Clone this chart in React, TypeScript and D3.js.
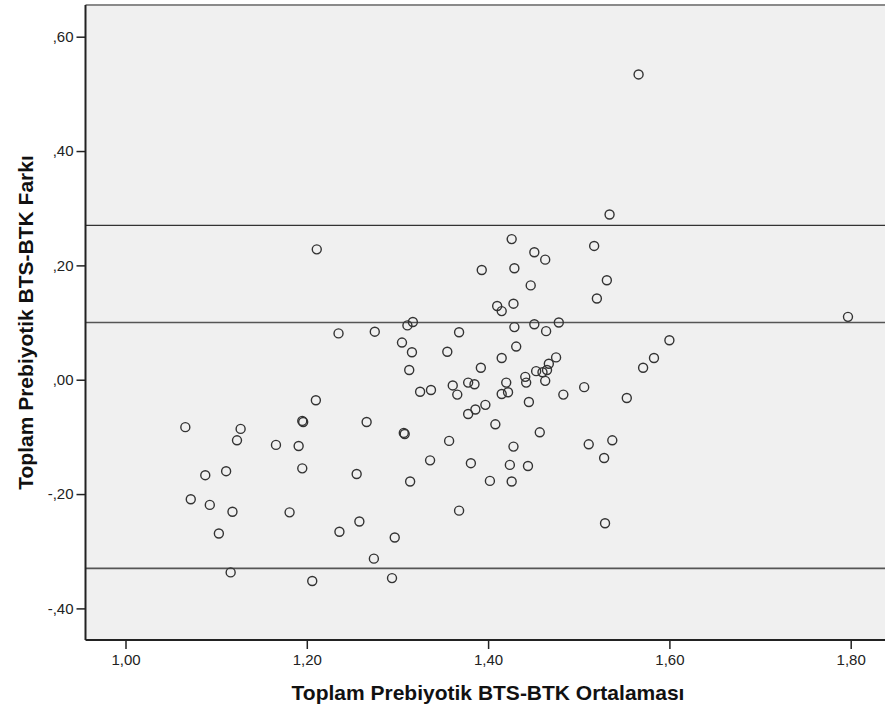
import React, { useRef, useEffect } from 'react'
import * as d3 from 'd3'

// Bland-Altman: mean (x) vs difference (y)
const meanValues = [
  1.566, 1.534, 1.426, 1.517, 1.451, 1.463, 1.393, 1.429, 1.531, 1.447,
  1.520, 1.410, 1.415, 1.428, 1.311, 1.317, 1.429, 1.451, 1.464, 1.478,
  1.368, 1.305, 1.316, 1.355, 1.431, 1.600, 1.583, 1.571, 1.415, 1.475,
  1.313, 1.392, 1.467, 1.453, 1.460, 1.465, 1.441, 1.442, 1.463, 1.325,
  1.337, 1.361, 1.366, 1.378, 1.385, 1.420, 1.415, 1.422, 1.506, 1.483,
  1.553, 1.445, 1.378, 1.386, 1.397, 1.408, 1.307, 1.308, 1.357, 1.457,
  1.428, 1.511, 1.537, 1.336, 1.381, 1.424, 1.444, 1.528, 1.314, 1.402,
  1.426, 1.368, 1.529, 1.211, 1.235, 1.275, 1.210, 1.066, 1.127, 1.123,
  1.195, 1.196, 1.266, 1.166, 1.191, 1.088, 1.111, 1.195, 1.255, 1.072,
  1.093, 1.118, 1.181, 1.258, 1.236, 1.297, 1.103, 1.274, 1.116, 1.206,
  1.294, 1.797
]
const diffValues = [
  0.534, 0.289, 0.246, 0.234, 0.223, 0.210, 0.192, 0.195, 0.174, 0.165,
  0.142, 0.129, 0.120, 0.133, 0.095, 0.101, 0.092, 0.097, 0.085, 0.100,
  0.083, 0.065, 0.048, 0.049, 0.058, 0.069, 0.038, 0.021, 0.038, 0.039,
  0.017, 0.021, 0.028, 0.015, 0.013, 0.017, 0.005, -0.005, -0.002, -0.021,
  -0.018, -0.010, -0.026, -0.005, -0.008, -0.005, -0.025, -0.022, -0.013, -0.026,
  -0.032, -0.039, -0.060, -0.052, -0.044, -0.078, -0.093, -0.095, -0.107, -0.092,
  -0.117, -0.113, -0.106, -0.141, -0.146, -0.149, -0.151, -0.137, -0.178, -0.177,
  -0.178, -0.229, -0.251, 0.228, 0.081, 0.084, -0.036, -0.083, -0.086, -0.106,
  -0.072, -0.074, -0.074, -0.114, -0.116, -0.167, -0.160, -0.155, -0.165, -0.209,
  -0.219, -0.231, -0.232, -0.248, -0.266, -0.276, -0.269, -0.313, -0.337, -0.352,
  -0.347, 0.110
]
// reference lines: upper limit, mean difference, lower limit
const refLines = [0.27, 0.10, -0.33]
const xTicks = [1.0, 1.2, 1.4, 1.6, 1.8]
const yTicks = [-0.4, -0.2, 0, 0.2, 0.4, 0.6]

export default function App() {
  const chartRef = useRef(null)
  const w = 885
  const h = 713

  useEffect(() => {
    const left = 85.5
    const top = 5
    const right = 886
    const bottom = 640

    const xScale = d3.scaleLinear().domain([1.0, 1.8]).range([125.5, 850.7])
    const yScale = d3.scaleLinear().domain([-0.4, 0.6]).range([608.4, 36.7])

    // SPSS style: ",60" / "-,40" / "1,20"
    const fmt = (v: number) => {
      const s = d3.format('.2f')(Math.abs(v)).replace('.', ',')
      const t = s.startsWith('0') ? s.slice(1) : s
      return v < -1e-9 ? '-' + t : t
    }

    const svg = d3.select(chartRef.current)
      .append('svg')
      .attr('width', w)
      .attr('height', h)
      .style('position', 'absolute')
      .style('left', 0)
      .style('top', 0)
      .style('background', '#ffffff')
      .style('font-family', '"Liberation Sans", Arial, sans-serif')

    svg.append('rect')
      .attr('x', left)
      .attr('y', top)
      .attr('width', right - left)
      .attr('height', bottom - top)
      .attr('fill', '#f0f0f0')

    // top frame line
    svg.append('line')
      .attr('x1', left).attr('x2', right)
      .attr('y1', top).attr('y2', top)
      .attr('stroke', '#8a8a8a')
      .attr('stroke-width', 2)

    svg.selectAll('.ref')
      .data(refLines)
      .enter()
      .append('line')
      .attr('class', 'ref')
      .attr('x1', left).attr('x2', right)
      .attr('y1', d => yScale(d)).attr('y2', d => yScale(d))
      .attr('stroke', (d, i) => (i === 0 ? '#333333' : '#555555'))
      .attr('stroke-width', (d, i) => (i === 0 ? 1.2 : 1.6))

    svg.selectAll('.pt')
      .data(meanValues)
      .enter()
      .append('circle')
      .attr('class', 'pt')
      .attr('cx', d => xScale(d))
      .attr('cy', (d, i) => yScale(diffValues[i]))
      .attr('r', 4.5)
      .attr('fill', 'none')
      .attr('stroke', '#333333')
      .attr('stroke-width', 1.4)

    const xAxis = d3.axisBottom(xScale)
      .tickValues(xTicks)
      .tickSize(9)
      .tickSizeOuter(0)
      .tickPadding(5)
      .tickFormat(d => fmt(+d))

    const gx = svg.append('g')
      .attr('transform', `translate(0,${bottom})`)
      .call(xAxis)
    gx.select('.domain').remove()
    gx.selectAll('.tick line').attr('stroke', '#222').attr('stroke-width', 1.5)
    gx.selectAll('.tick text').attr('fill', '#222').style('font-size', '15px')

    const yAxis = d3.axisLeft(yScale)
      .tickValues(yTicks)
      .tickSize(9)
      .tickSizeOuter(0)
      .tickPadding(3)
      .tickFormat(d => fmt(+d))

    const gy = svg.append('g')
      .attr('transform', `translate(${left},0)`)
      .call(yAxis)
    gy.select('.domain').remove()
    gy.selectAll('.tick line').attr('stroke', '#222').attr('stroke-width', 1.5)
    gy.selectAll('.tick text').attr('fill', '#222').style('font-size', '15px')

    // axis lines
    svg.append('line')
      .attr('x1', left).attr('x2', left)
      .attr('y1', top).attr('y2', bottom)
      .attr('stroke', '#222').attr('stroke-width', 2)
    svg.append('line')
      .attr('x1', left).attr('x2', right)
      .attr('y1', bottom).attr('y2', bottom)
      .attr('stroke', '#222').attr('stroke-width', 2)

    svg.append('text')
      .attr('x', 488)
      .attr('y', 700)
      .attr('text-anchor', 'middle')
      .style('font-size', '21px')
      .style('font-weight', 'bold')
      .attr('fill', '#111')
      .text('Toplam Prebiyotik BTS-BTK Ortalaması')

    svg.append('text')
      .attr('transform', 'rotate(-90)')
      .attr('x', -(top + bottom) / 2)
      .attr('y', 33)
      .attr('text-anchor', 'middle')
      .style('font-size', '21px')
      .style('font-weight', 'bold')
      .attr('fill', '#111')
      .text('Toplam Prebiyotik BTS-BTK Farkı')

    return () => { d3.select(chartRef.current).selectAll('*').remove() }
  }, [])

  return (
    <div className="parent">
      <div ref={chartRef}></div>
    </div>
  )
}
